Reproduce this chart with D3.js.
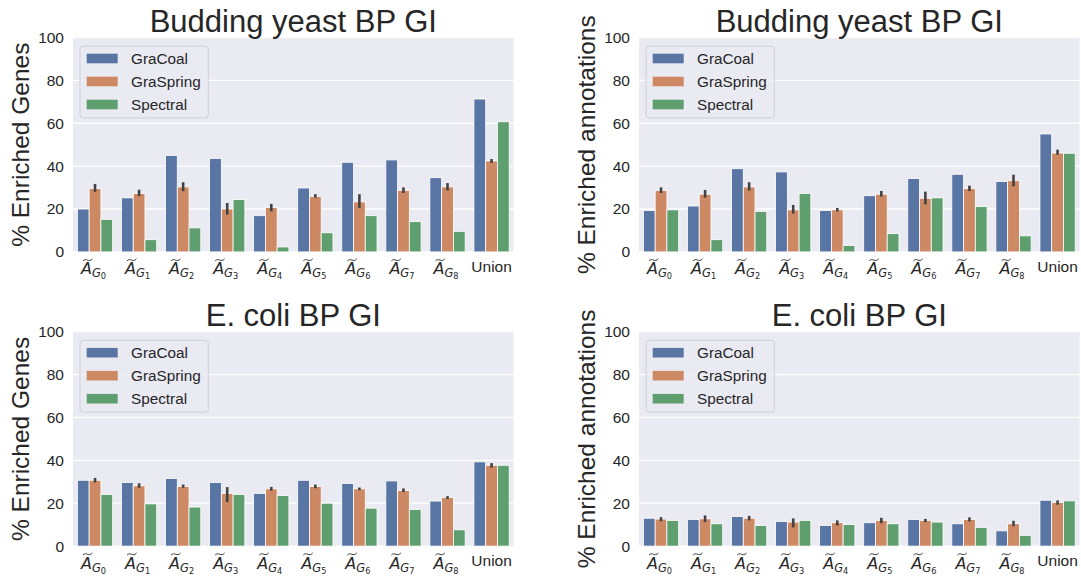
<!DOCTYPE html>
<html>
<head>
<meta charset="utf-8">
<script src="https://cdn.jsdelivr.net/npm/d3@7"></script>
<style>
  body { margin: 0; background: #fff; }
  svg { display: block; }
  text { font-family: "Liberation Sans", Arial, sans-serif; fill: #262626; }
</style>
</head>
<body>
<div class="canvas"></div>
<script>
// categories, series and ticks
const categories = ["G0", "G1", "G2", "G3", "G4", "G5", "G6", "G7", "G8", "Union"];
const methods = ["GraCoal", "GraSpring", "Spectral"];
const colors = ["#5975A4", "#CC8963", "#5F9E6E"]; // seaborn deep at 0.75 saturation
const yTicks = [0, 20, 40, 60, 80, 100];

// budding yeast, % enriched genes
const yeastGenesGraCoal = [20.0, 25.2, 45.0, 43.6, 16.9, 29.8, 41.8, 42.9, 34.6, 71.3];
const yeastGenesGraSpring = [29.5, 27.2, 30.3, 20.0, 20.7, 25.9, 23.3, 28.7, 30.3, 42.4];
const yeastGenesSpectral = [15.2, 5.7, 11.2, 24.4, 2.3, 8.9, 16.9, 14.1, 9.6, 60.7];
const yeastGenesErrLow = [28.0, 26.0, 28.3, 17.4, 18.9, 25.3, 20.5, 27.5, 28.7, 41.5];
const yeastGenesErrHigh = [31.7, 29.0, 32.5, 22.8, 22.4, 26.9, 26.9, 30.1, 32.1, 43.3];

// budding yeast, % enriched annotations
const yeastAnnotGraCoal = [19.3, 21.4, 38.8, 37.3, 19.3, 26.2, 34.2, 36.2, 32.8, 55.0];
const yeastAnnotGraSpring = [28.7, 26.9, 30.3, 19.6, 19.6, 26.9, 25.0, 29.5, 33.2, 46.1];
const yeastAnnotSpectral = [19.6, 5.7, 18.9, 27.3, 3.0, 8.5, 25.2, 21.1, 7.5, 46.0];
const yeastAnnotErrLow = [27.5, 25.3, 28.6, 17.9, 18.8, 25.8, 22.2, 28.4, 30.6, 45.3];
const yeastAnnotErrHigh = [30.1, 28.9, 32.5, 21.9, 20.5, 28.4, 28.1, 30.9, 36.0, 47.7];

// e. coli, % enriched genes
const ecoliGenesGraCoal = [30.7, 29.7, 31.5, 29.7, 24.5, 30.7, 29.2, 30.4, 21.0, 39.3];
const ecoliGenesGraSpring = [30.7, 28.1, 27.8, 24.5, 26.7, 27.8, 26.7, 25.9, 22.7, 37.7];
const ecoliGenesSpectral = [24.1, 19.7, 18.2, 24.1, 23.6, 20.0, 17.7, 17.1, 7.6, 37.7];
const ecoliGenesErrLow = [29.7, 27.2, 27.2, 20.5, 25.9, 27.0, 26.1, 25.2, 22.0, 36.6];
const ecoliGenesErrHigh = [31.8, 29.3, 28.7, 27.5, 27.6, 28.7, 27.3, 26.9, 23.3, 38.7];

// e. coli, % enriched annotations
const ecoliAnnotGraCoal = [13.0, 12.4, 13.8, 11.5, 9.6, 10.9, 12.4, 10.4, 7.1, 21.4];
const ecoliAnnotGraSpring = [12.6, 12.7, 13.0, 11.2, 10.9, 12.0, 12.0, 12.4, 10.4, 20.3];
const ecoliAnnotSpectral = [12.0, 10.4, 9.6, 12.0, 10.1, 10.4, 11.2, 8.7, 5.0, 21.1];
const ecoliAnnotErrLow = [11.6, 11.2, 12.0, 8.7, 9.6, 10.7, 11.2, 11.5, 9.3, 19.3];
const ecoliAnnotErrHigh = [13.5, 14.3, 14.1, 12.9, 12.0, 13.2, 12.7, 13.4, 11.8, 21.3];

// page and panel sizes
const w = 1081;
const h = 576;
const plotWidth = 440.6;
const plotHeight = 214.4;

const panels = [
  { left: 73, top: 37.5, title: "Budding yeast BP GI", ylabel: "% Enriched Genes",
    series: [yeastGenesGraCoal, yeastGenesGraSpring, yeastGenesSpectral], lo: yeastGenesErrLow, hi: yeastGenesErrHigh },
  { left: 639, top: 37.5, title: "Budding yeast BP GI", ylabel: "% Enriched annotations",
    series: [yeastAnnotGraCoal, yeastAnnotGraSpring, yeastAnnotSpectral], lo: yeastAnnotErrLow, hi: yeastAnnotErrHigh },
  { left: 73, top: 331.7, title: "E. coli BP GI", ylabel: "% Enriched Genes",
    series: [ecoliGenesGraCoal, ecoliGenesGraSpring, ecoliGenesSpectral], lo: ecoliGenesErrLow, hi: ecoliGenesErrHigh },
  { left: 639, top: 331.7, title: "E. coli BP GI", ylabel: "% Enriched annotations",
    series: [ecoliAnnotGraCoal, ecoliAnnotGraSpring, ecoliAnnotSpectral], lo: ecoliAnnotErrLow, hi: ecoliAnnotErrHigh }
];

const svg = d3.select(".canvas").append("svg").attr("width", w).attr("height", h);

// shared scales (seaborn style: slot of 1, bars fill 0.8 of it)
const xScale = d3.scaleBand().domain(categories).range([0, plotWidth]).paddingInner(0.2).paddingOuter(0.1);
const hueScale = d3.scaleBand().domain(methods).range([0, xScale.bandwidth()]);
const yScale = d3.scaleLinear().domain([0, 100]).range([plotHeight, 0]);

panels.forEach(p => {
  const graph = svg.append("g").attr("transform", `translate(${p.left}, ${p.top})`);

  // background + grid
  graph.append("rect").attr("width", plotWidth).attr("height", plotHeight).attr("fill", "#EAEAF2");
  graph.selectAll(".grid")
    .data(yTicks)
    .enter()
    .append("line")
    .attr("x1", 0).attr("x2", plotWidth)
    .attr("y1", d => yScale(d)).attr("y2", d => yScale(d))
    .attr("stroke", "#fff").attr("stroke-width", 1.3);

  // y axis
  const yAxis = d3.axisLeft(yScale).tickValues(yTicks).tickSize(0).tickPadding(9);
  const yg = graph.append("g").call(yAxis);
  yg.select(".domain").remove();
  yg.selectAll("text").attr("font-size", 15.5).attr("fill", "#262626")
    .style("font-family", "'Liberation Sans', Arial, sans-serif");

  // bars
  methods.forEach((m, i) => {
    graph.append("g")
      .selectAll("rect")
      .data(p.series[i])
      .enter()
      .append("rect")
      .attr("x", (d, j) => xScale(categories[j]) + hueScale(m))
      .attr("y", d => yScale(d))
      .attr("width", hueScale.bandwidth())
      .attr("height", d => yScale(0) - yScale(d))
      .attr("fill", colors[i])
      .attr("stroke", "#fff")
      .attr("stroke-width", 0.8);
  });

  // error bars on GraSpring
  graph.append("g")
    .selectAll("line")
    .data(p.lo)
    .enter()
    .append("line")
    .attr("x1", (d, j) => xScale(categories[j]) + hueScale("GraSpring") + hueScale.bandwidth() / 2)
    .attr("x2", (d, j) => xScale(categories[j]) + hueScale("GraSpring") + hueScale.bandwidth() / 2)
    .attr("y1", d => yScale(d))
    .attr("y2", (d, j) => yScale(p.hi[j]))
    .attr("stroke", "#424242")
    .attr("stroke-width", 2.6);

  // x axis with math-style labels
  const xAxis = d3.axisBottom(xScale).tickSize(0).tickFormat("");
  const xg = graph.append("g").attr("transform", `translate(0, ${plotHeight})`).call(xAxis);
  xg.select(".domain").remove();
  xg.selectAll(".tick").each(function (d) {
    const tick = d3.select(this);
    tick.selectAll("text").remove();
    if (d === "Union") {
      tick.append("text")
        .attr("y", 20)
        .attr("text-anchor", "middle")
        .attr("font-size", 15.5)
        .text("Union");
      return;
    }
    const t = tick.append("text")
      .attr("x", -1.5)
      .attr("y", 22.5)
      .attr("text-anchor", "middle")
      .style("font-family", "'DejaVu Sans', sans-serif");
    t.append("tspan").attr("font-size", 16).attr("font-style", "italic").text("A");
    t.append("tspan").attr("font-size", 11.5).attr("font-style", "italic").attr("dy", 3).text("G");
    t.append("tspan").attr("font-size", 8.2).attr("dy", 2).text(d.slice(1));
    const ext = t.node().getExtentOfChar(0);
    const x0 = ext.x + 2, x1 = ext.x + ext.width + 0.5, ty = 7.8;
    tick.append("path")
      .attr("d", `M${x0},${ty + 1.2} C${x0 + (x1 - x0) * 0.35},${ty - 2.6} ${x0 + (x1 - x0) * 0.6},${ty + 3.6} ${x1},${ty - 1}`)
      .attr("fill", "none")
      .attr("stroke", "#262626")
      .attr("stroke-width", 0.9);
  });

  // title
  graph.append("text")
    .attr("x", plotWidth / 2)
    .attr("y", -5.5)
    .attr("text-anchor", "middle")
    .attr("font-size", 31)
    .text(p.title);

  // y label
  graph.append("text")
    .attr("transform", `translate(-44.5, ${plotHeight / 2}) rotate(-90)`)
    .attr("text-anchor", "middle")
    .attr("font-size", 24.5)
    .text(p.ylabel);

  // legend
  const legend = graph.append("g").attr("transform", "translate(7, 8.7)");
  legend.append("rect")
    .attr("width", 128.3).attr("height", 71.7).attr("rx", 3)
    .attr("fill", "#EAEAF2").attr("fill-opacity", 0.8)
    .attr("stroke", "#d0d0d6").attr("stroke-width", 1);
  const rows = legend.selectAll(".row")
    .data(methods)
    .enter()
    .append("g")
    .attr("transform", (d, i) => `translate(0, ${12.3 + i * 23})`);
  rows.append("rect")
    .attr("x", 6.7).attr("y", -4.8)
    .attr("width", 31).attr("height", 9.6)
    .attr("fill", (d, i) => colors[i]);
  rows.append("text")
    .attr("x", 51)
    .attr("y", 5.5)
    .attr("font-size", 15.3)
    .text(d => d);
});
</script>
</body>
</html>
